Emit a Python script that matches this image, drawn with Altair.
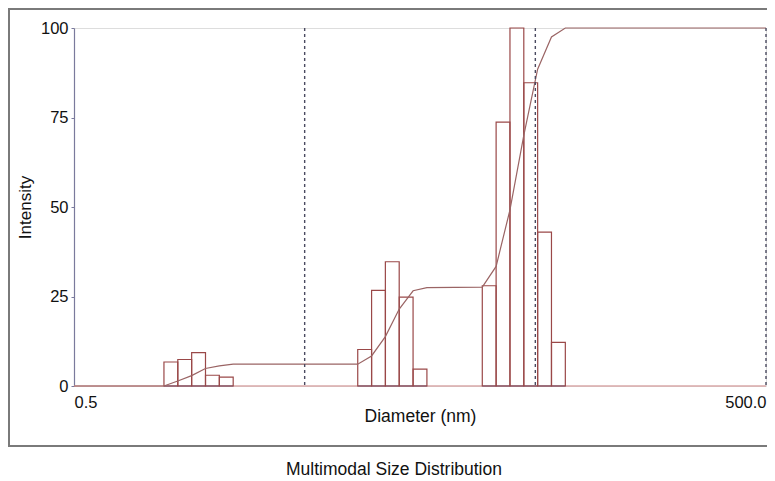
import altair as alt
import pandas as pd

# ---- data ----
X_MIN, X_MAX = 0.5, 500.0
BIN_LOG_WIDTH = 0.06  # width of one size class, in decades

diameters = [1.315, 1.510, 1.734, 1.991, 2.286,
             9.10, 10.45, 11.99, 13.77, 15.81,
             31.55, 36.22, 41.59, 47.75, 54.82, 62.95]
intensity = [6.7, 7.4, 9.3, 3.0, 2.5,
             10.2, 26.7, 34.7, 24.8, 4.7,
             28.0, 73.7, 100.0, 84.7, 43.0, 12.2]

cum_diameter = [0.5, 1.227, 1.409, 1.618, 1.857, 2.133, 2.449,
                8.49, 9.75, 11.19, 12.85, 14.76, 16.94,
                29.44, 33.80, 38.81, 44.56, 51.16, 58.74, 67.45, 500.0]
cum_value = [0, 0, 1.4, 2.9, 4.9, 5.6, 6.1,
             6.1, 8.4, 13.8, 21.5, 26.6, 27.5,
             27.6, 33.4, 49.2, 70.0, 88.5, 97.5, 100.0, 100.0]

marker_lines = [5.0, 50.0, 500.0]
y_ticks = [0, 25, 50, 75, 100]
x_labels = [0.5, 500.0]

x_title = "Diameter (nm)"
y_title = "Intensity"
subtitle = "Multimodal Size Distribution"

# ---- tables ----
half = 10 ** (BIN_LOG_WIDTH / 2)
bars = pd.DataFrame({
    "d": diameters,
    "lo": [d / half for d in diameters],
    "hi": [d * half for d in diameters],
    "v": intensity,
})
cum = pd.DataFrame({"d": cum_diameter, "c": cum_value})
marks_df = pd.DataFrame({"m": marker_lines})
range_df = pd.DataFrame({"a": [X_MIN], "b": [X_MAX]})
one = pd.DataFrame({"t": [subtitle]})

FONT = "Liberation Sans"
W, H = 692, 358

xscale = alt.Scale(type="log", domain=[X_MIN, X_MAX], nice=False)
yscale = alt.Scale(domain=[0, 100], nice=False)

x_axis = alt.Axis(values=x_labels, format=".1f", ticks=False, domain=False,
                  grid=False, labelFlush=True, labelFontSize=16.5, labelFont=FONT,
                  labelColor="#111", labelPadding=8, title=x_title,
                  titleFont=FONT, titleFontSize=17.5, titleFontWeight="normal",
                  titleColor="#111", titlePadding=-3)
y_axis = alt.Axis(values=y_ticks, ticks=True, tickSize=3, tickColor="#7a7a9c",
                  domainColor="#7a7a9c", domainWidth=1.2, grid=False,
                  labelFlush=False, labelFontSize=16.5, labelFont=FONT,
                  labelColor="#111", labelPadding=3, title=y_title,
                  titleFont=FONT, titleFontSize=17, titleFontWeight="normal",
                  titleColor="#111", titlePadding=6)

frame = alt.Chart(one).mark_rect(fillOpacity=0, stroke="#7a7a7a", strokeWidth=2).encode(
    x=alt.value(-65), x2=alt.value(760), y=alt.value(-19), y2=alt.value(418))

baseline = alt.Chart(range_df).mark_rule(color="#d8a8a8", strokeWidth=1.5).encode(
    x=alt.X("a:Q", scale=xscale, axis=x_axis),
    x2="b:Q",
    y=alt.Y("zero:Q", scale=yscale, axis=y_axis),
).transform_calculate(zero="0")

bar_layer = alt.Chart(bars).mark_bar(fillOpacity=0, stroke="#9a4848", strokeWidth=1.2).encode(
    x=alt.X("lo:Q", scale=xscale),
    x2="hi:Q",
    y=alt.Y("v:Q", scale=yscale),
    y2=alt.Y2("z:Q"),
).transform_calculate(z="0")

bar_base = alt.Chart(bars).mark_rule(color="#8a8aaa", strokeWidth=1.5).encode(
    x=alt.X("lo:Q", scale=xscale),
    x2="hi:Q",
    y=alt.Y("z:Q", scale=yscale),
).transform_calculate(z="0")

dashes = alt.Chart(marks_df).mark_rule(color="#4a4a60", strokeDash=[3, 3], strokeWidth=1.4).encode(
    x=alt.X("m:Q", scale=xscale),
)

cum_line = alt.Chart(cum).mark_line(color="#9a6464", strokeWidth=1.2).encode(
    x=alt.X("d:Q", scale=xscale),
    y=alt.Y("c:Q", scale=yscale),
)

sub = alt.Chart(one).mark_text(font=FONT, fontSize=17.5, color="#111", align="center",
                               baseline="middle").encode(
    text="t:N", x=alt.value(320), y=alt.value(442))

chart = alt.layer(baseline, frame, bar_base, bar_layer, cum_line, dashes, sub).properties(
    width=W, height=H,
    autosize=alt.AutoSizeParams(type="none"),
    padding={"left": 66, "top": 20, "right": 1, "bottom": 95},
).configure_view(stroke=None).configure(background="white")

chart.save("out.html", embed_options={"renderer": "svg", "actions": False})
